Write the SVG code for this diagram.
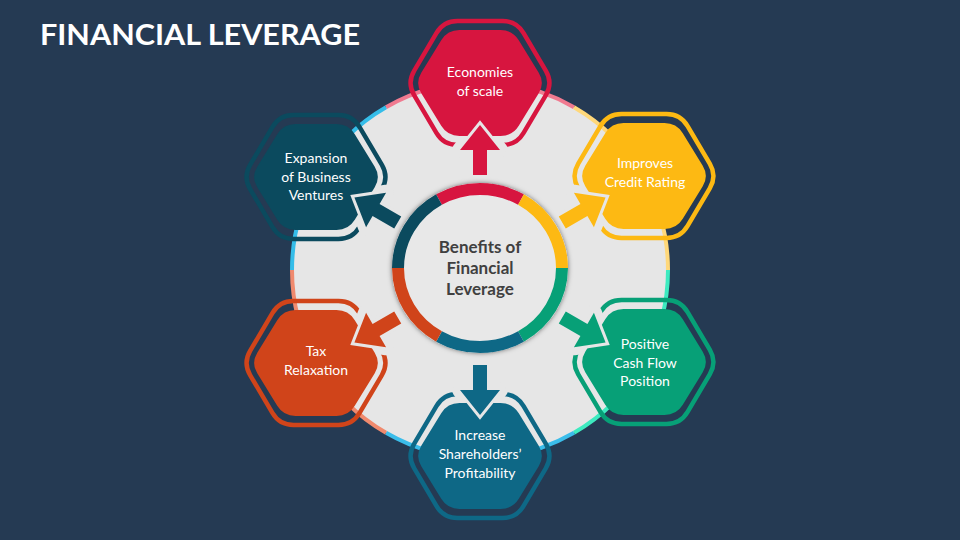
<svg xmlns="http://www.w3.org/2000/svg" width="960" height="540" viewBox="0 0 960 540">
<style>
.lbl{font-family:Lato,"Liberation Sans",sans-serif;font-size:14px;fill:#ffffff;text-anchor:middle}
.ctr{font-family:Lato,"Liberation Sans",sans-serif;font-weight:700;font-size:17px;fill:#404040;text-anchor:middle}
.ol{fill:none;stroke-width:4.5}
.gap{fill:#E6E6E6;stroke:#E6E6E6;stroke-width:16;stroke-linejoin:round}
.arw{stroke:#E6E6E6;stroke-width:6;paint-order:stroke;stroke-linejoin:miter}
.seg{fill:none;stroke-width:4}
.rseg{fill:none;stroke-width:12}
</style>
<defs>
<path id="hf" d="M-58.73,-10.22 L-38.77,-42.78 Q-32.5,-53 -20.5,-53 L20.5,-53 Q32.5,-53 38.77,-42.78 L58.73,-10.22 Q65,0 58.73,10.22 L38.77,42.78 Q32.5,53 20.5,53 L-20.5,53 Q-32.5,53 -38.77,42.78 L-58.73,10.22 Q-65,0 -58.73,-10.22 Z"/>
<path id="ho" d="M-65.9,-12.07 L-43.6,-49.93 Q-36.5,-62 -22.5,-62 L22.5,-62 Q36.5,-62 43.6,-49.93 L65.9,-12.07 Q73,0 65.9,12.07 L43.6,49.93 Q36.5,62 22.5,62 L-22.5,62 Q-36.5,62 -43.6,49.93 L-65.9,12.07 Q-73,0 -65.9,-12.07 Z"/>
<path id="ar" d="M-7,-95 L-7,-120 L-20,-120 L0,-145 L20,-120 L7,-120 L7,-95 Z"/>
<path id="gp" d="M-20,-120 L0,-145 L20,-120 Z"/>
<filter id="sh" x="-20%" y="-20%" width="140%" height="140%">
<feDropShadow dx="0" dy="0" stdDeviation="2.5" flood-color="#000" flood-opacity="0.55"/>
</filter>
</defs>
<rect width="960" height="540" fill="#253A53"/>
<text x="40" y="45" font-family="Lato,'Liberation Sans',sans-serif" font-weight="700" font-size="29" fill="#ffffff" textLength="320" lengthAdjust="spacingAndGlyphs">FINANCIAL LEVERAGE</text>

<g id="wheel">
<circle cx="480" cy="270" r="188" fill="#E6E6E6"/>
<path class="seg" stroke="#F07A90" d="M386,107.2 A188,188 0 0 1 574,107.2"/>
<path class="seg" stroke="#FFD87A" d="M574,107.2 A188,188 0 0 1 668,270"/>
<path class="seg" stroke="#3DEBC0" d="M668,270 A188,188 0 0 1 574,432.8"/>
<path class="seg" stroke="#3BBDEA" d="M574,432.8 A188,188 0 0 1 386,432.8"/>
<path class="seg" stroke="#F08A6E" d="M386,432.8 A188,188 0 0 1 292,270"/>
<path class="seg" stroke="#35BDE9" d="M292,270 A188,188 0 0 1 386,107.2"/>
</g>

<g id="node-economies">
<use href="#ho" x="480" y="83" class="ol" stroke="#D7153F"/>
<use href="#gp" transform="translate(480,270)" class="gap"/>
<use href="#hf" x="480" y="83" fill="#D7153F"/>
<text class="lbl" x="480" y="77">Economies</text>
<text class="lbl" x="480" y="95.5">of scale</text>
</g>

<g id="node-credit">
<use href="#ho" x="644" y="176" class="ol" stroke="#FDB913"/>
<use href="#gp" transform="translate(480,270) rotate(60)" class="gap"/>
<use href="#hf" x="644" y="176" fill="#FDB913"/>
<text class="lbl" x="645" y="168">Improves</text>
<text class="lbl" x="645" y="187">Credit Rating</text>
</g>

<g id="node-cashflow">
<use href="#ho" x="644" y="362" class="ol" stroke="#07A077"/>
<use href="#gp" transform="translate(480,270) rotate(120)" class="gap"/>
<use href="#hf" x="644" y="362" fill="#07A077"/>
<text class="lbl" x="645" y="348.5">Positive</text>
<text class="lbl" x="645" y="367.5">Cash Flow</text>
<text class="lbl" x="645" y="386">Position</text>
</g>

<g id="node-shareholders">
<use href="#ho" x="480" y="456" class="ol" stroke="#0E6886"/>
<use href="#gp" transform="translate(480,270) rotate(180)" class="gap"/>
<use href="#hf" x="480" y="456" fill="#0E6886"/>
<text class="lbl" x="480" y="440">Increase</text>
<text class="lbl" x="480" y="459">Shareholders’</text>
<text class="lbl" x="480" y="477.5">Profitability</text>
</g>

<g id="node-tax">
<use href="#ho" x="316" y="363" class="ol" stroke="#D0441A"/>
<use href="#gp" transform="translate(480,270) rotate(240)" class="gap"/>
<use href="#hf" x="316" y="363" fill="#D0441A"/>
<text class="lbl" x="316" y="356">Tax</text>
<text class="lbl" x="316" y="375">Relaxation</text>
</g>

<g id="node-expansion">
<use href="#ho" x="316" y="177" class="ol" stroke="#0B4A5E"/>
<use href="#gp" transform="translate(480,270) rotate(300)" class="gap"/>
<use href="#hf" x="316" y="177" fill="#0B4A5E"/>
<text class="lbl" x="316" y="163">Expansion</text>
<text class="lbl" x="316" y="181.5">of Business</text>
<text class="lbl" x="316" y="200">Ventures</text>
</g>

<g id="connectors">
<use href="#ar" class="arw" transform="translate(480,270)" fill="#D7153F"/>
<use href="#ar" class="arw" transform="translate(480,270) rotate(60)" fill="#FDB913"/>
<use href="#ar" class="arw" transform="translate(480,270) rotate(120)" fill="#07A077"/>
<use href="#ar" class="arw" transform="translate(480,270) rotate(180)" fill="#0E6886"/>
<use href="#ar" class="arw" transform="translate(480,270) rotate(240)" fill="#D0441A"/>
<use href="#ar" class="arw" transform="translate(480,270) rotate(300)" fill="#0B4A5E"/>
</g>

<g id="node-center">
<ellipse cx="480" cy="268" rx="88" ry="85" fill="#E8E8E8" filter="url(#sh)"/>
<path class="rseg" stroke="#D7153F" d="M439,199.6 A82,79 0 0 1 521,199.6"/>
<path class="rseg" stroke="#FDB913" d="M521,199.6 A82,79 0 0 1 562,268"/>
<path class="rseg" stroke="#07A077" d="M562,268 A82,79 0 0 1 521,336.4"/>
<path class="rseg" stroke="#0E6886" d="M521,336.4 A82,79 0 0 1 439,336.4"/>
<path class="rseg" stroke="#D0441A" d="M439,336.4 A82,79 0 0 1 398,268"/>
<path class="rseg" stroke="#0B4A5E" d="M398,268 A82,79 0 0 1 439,199.6"/>
<text class="ctr" x="480" y="253">Benefits of</text>
<text class="ctr" x="480" y="274">Financial</text>
<text class="ctr" x="480" y="295">Leverage</text>
</g>
</svg>
